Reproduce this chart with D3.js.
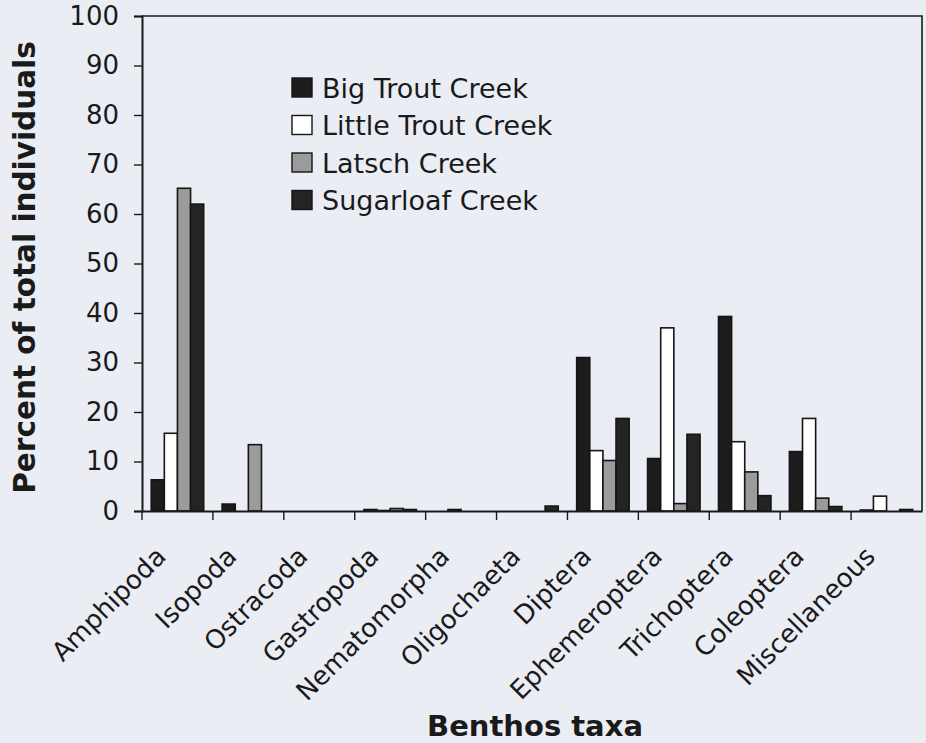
<!DOCTYPE html>
<html>
<head>
<meta charset="utf-8">
<script src="https://cdn.jsdelivr.net/npm/d3@7"></script>
<style>
  html, body { margin: 0; padding: 0; background: #ebedf5; }
  svg { display: block; }
  text { font-family: "DejaVu Sans", Verdana, sans-serif; fill: #1a1a1a; }
</style>
</head>
<body>
<svg id="chart" width="926" height="743"></svg>
<script>
// Benthos taxa composition (% of total individuals) for four creeks
const categories = ["Amphipoda", "Isopoda", "Ostracoda", "Gastropoda", "Nematomorpha",
  "Oligochaeta", "Diptera", "Ephemeroptera", "Trichoptera", "Coleoptera", "Miscellaneous"];
const seriesNames = ["Big Trout Creek", "Little Trout Creek", "Latsch Creek", "Sugarloaf Creek"];
const bigTrout    = [6.3, 1.4, 0, 0.3, 0,   0,   31.0, 10.6, 39.3, 12.0, 0.2];
const littleTrout = [15.7, 0,  0, 0.1, 0.3, 0,   12.2, 37.0, 14.0, 18.7, 3.0];
const latsch      = [65.2, 13.4, 0, 0.5, 0, 0,   10.2, 1.5,  7.9,  2.6,  0];
const sugarloaf   = [62.0, 0,  0, 0.3, 0,   1.0, 18.7, 15.5, 3.1,  0.9,  0.3];
const yTicks = [0, 10, 20, 30, 40, 50, 60, 70, 80, 90, 100];
const colors = ["#1c1c1c", "#ffffff", "#9b9b9b", "#242424"];

const seriesValues = [bigTrout, littleTrout, latsch, sugarloaf];

const svg = d3.select("#chart");
const W = 926, H = 743;
const margin = { top: 16, right: 4, bottom: 232, left: 142 };
const plotW = W - margin.left - margin.right;
const plotH = H - margin.top - margin.bottom;

const g = svg.append("g").attr("transform", `translate(${margin.left},${margin.top})`);

const x0 = d3.scaleBand().domain(categories).range([0, plotW])
  .paddingInner(0.26).paddingOuter(0.13);
const x1 = d3.scaleBand().domain(seriesNames).range([0, x0.bandwidth()]);
const y = d3.scaleLinear().domain([0, 100]).range([plotH, 0]);
const color = d3.scaleOrdinal().domain(seriesNames).range(colors);

// bars
const groups = g.selectAll("g.cat").data(categories).join("g")
  .attr("class", "cat")
  .attr("transform", c => `translate(${x0(c)},0)`);
groups.selectAll("rect")
  .data((c, i) => seriesNames.map((s, j) => ({ s, v: seriesValues[j][i] })))
  .join("rect")
  .attr("x", d => x1(d.s))
  .attr("width", x1.bandwidth())
  .attr("y", d => y(d.v))
  .attr("height", d => plotH - y(d.v))
  .attr("fill", d => color(d.s))
  .attr("stroke", "#151515")
  .attr("stroke-width", 1.6);

// plot frame (top and right)
g.append("path")
  .attr("d", `M0,0H${plotW}V${plotH}`)
  .attr("fill", "none").attr("stroke", "#1a1a1a").attr("stroke-width", 1.6);

// y axis
const yAxis = g.append("g").call(d3.axisLeft(y).tickValues(yTicks).tickSize(8).tickPadding(15));
yAxis.select(".domain").attr("stroke", "#1a1a1a").attr("stroke-width", 2);
yAxis.selectAll(".tick line").attr("stroke", "#1a1a1a").attr("stroke-width", 1.4);
yAxis.selectAll("text").style("font-size", "26px").attr("fill", "#1a1a1a")
  .style("font-family", "'DejaVu Sans', Verdana, sans-serif");

// x axis with labels centred on categories
const xAxis = g.append("g").attr("transform", `translate(0,${plotH})`)
  .call(d3.axisBottom(x0).tickSize(0).tickSizeOuter(0));
xAxis.select(".domain").attr("stroke", "#1a1a1a").attr("stroke-width", 2);
xAxis.selectAll("text")
  .attr("y", 0).attr("dy", 0).attr("x", 0)
  .attr("transform", "translate(-10,47) rotate(-45)")
  .attr("text-anchor", "end")
  .style("font-size", "26px").attr("fill", "#1a1a1a")
  .style("font-family", "'DejaVu Sans', Verdana, sans-serif");

// tick marks at category boundaries
const half = (x0.step() - x0.bandwidth()) / 2;
xAxis.selectAll("line.bound").data(categories).join("line")
  .attr("class", "bound")
  .attr("x1", c => x0(c) - half).attr("x2", c => x0(c) - half)
  .attr("y1", 0).attr("y2", 9)
  .attr("stroke", "#1a1a1a").attr("stroke-width", 1.4);

// axis titles
svg.append("text")
  .attr("transform", `translate(35,${margin.top + plotH / 2 + 4}) rotate(-90)`)
  .attr("text-anchor", "middle")
  .style("font-size", "29.5px").style("font-weight", "bold")
  .text("Percent of total individuals");
svg.append("text")
  .attr("x", margin.left + plotW / 2 + 3).attr("y", 736)
  .attr("text-anchor", "middle")
  .style("font-size", "29px").style("font-weight", "bold")
  .text("Benthos taxa");

// legend
const legend = svg.append("g").attr("transform", "translate(292,78)");
const row = legend.selectAll("g").data(seriesNames).join("g")
  .attr("transform", (d, i) => `translate(0,${i * 37.5})`);
row.append("rect")
  .attr("width", 20).attr("height", 19)
  .attr("fill", d => color(d))
  .attr("stroke", "#151515").attr("stroke-width", 1.4);
row.append("text")
  .attr("x", 30).attr("y", 19.5)
  .style("font-size", "27px")
  .text(d => d);
</script>
</body>
</html>
